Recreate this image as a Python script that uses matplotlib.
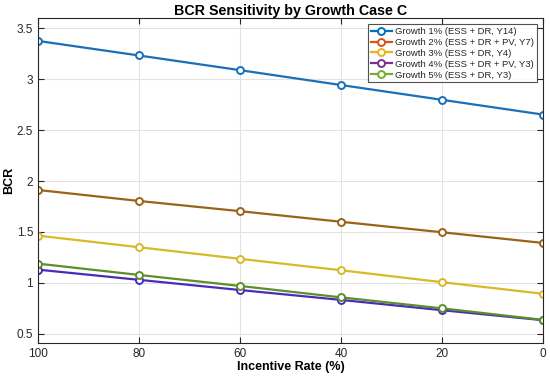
import numpy as np
import matplotlib
matplotlib.use("Agg")
import matplotlib.pyplot as plt

plt.rcParams["font.family"] = ["Liberation Sans", "DejaVu Sans"]

# incentive rate on x, BCR on y
incentive = [100, 80, 60, 40, 20, 0]
bcr_g1 = [3.375, 3.232, 3.088, 2.942, 2.797, 2.652]
bcr_g2 = [1.912, 1.804, 1.704, 1.600, 1.497, 1.392]
bcr_g3 = [1.464, 1.350, 1.236, 1.124, 1.007, 0.893]
bcr_g4 = [1.130, 1.030, 0.930, 0.833, 0.732, 0.634]
bcr_g5 = [1.189, 1.078, 0.970, 0.858, 0.750, 0.637]

labels = [
    "Growth 1% (ESS + DR, Y14)",
    "Growth 2% (ESS + DR + PV, Y7)",
    "Growth 3% (ESS + DR, Y4)",
    "Growth 4% (ESS + DR + PV, Y3)",
    "Growth 5% (ESS + DR, Y3)",
]
series = [bcr_g1, bcr_g2, bcr_g3, bcr_g4, bcr_g5]
# legend colours (matlab defaults) and the colour the lines actually show
legend_colors = ["#0072BD", "#D95319", "#EDB120", "#7E2F8E", "#77AC30"]
line_colors = ["#1a70b8", "#9a6418", "#d6ba2a", "#4a2cb8", "#5b8f2c"]

fig = plt.figure(figsize=(5.5, 3.79), dpi=100)
ax = fig.add_axes([38 / 550, 1 - 343 / 379, 505 / 550, 325 / 379])

handles = []
for y, lc, c, lab in zip(series, line_colors, legend_colors, labels):
    ax.plot(incentive, y, "-o", color=lc, lw=1.6, ms=5, mfc="white", mew=1.4)
    h, = ax.plot([], [], "-o", color=c, lw=1.6, ms=5, mfc="white", mew=1.4, label=lab)
    handles.append(h)

ax.set_xlim(100, 0)
ax.set_ylim(0.41, 3.6)
ax.set_xticks(incentive)
ax.set_yticks([0.5, 1, 1.5, 2, 2.5, 3, 3.5])
ax.set_yticklabels(["0.5", "1", "1.5", "2", "2.5", "3", "3.5"])
ax.grid(True, color="#e3e3e3", lw=0.8)
ax.set_axisbelow(True)
ax.tick_params(direction="in", top=True, right=True, labelsize=8.5, colors="#262626", length=4)
for sp in ax.spines.values():
    sp.set_color("#262626")
    sp.set_linewidth(0.8)

ax.set_title("BCR Sensitivity by Growth Case C", fontsize=10.3, fontweight="bold", pad=2)
ax.set_xlabel("Incentive Rate (%)", fontsize=9, fontweight="bold", labelpad=1)
ax.set_ylabel("BCR", fontsize=9, fontweight="bold")
ax.yaxis.set_label_coords(-0.045, 0.5)

leg = ax.legend(handles=handles, loc="upper right", fontsize=6.8, frameon=True, fancybox=False,
                edgecolor="#262626", borderpad=0.3, labelspacing=0.2, handlelength=2.3,
                handletextpad=0.3, borderaxespad=0, bbox_to_anchor=(0.988, 0.981))
leg.get_frame().set_linewidth(0.8)
for t in leg.get_texts():
    t.set_color("#262626")

fig.savefig("out.png", dpi=100)
